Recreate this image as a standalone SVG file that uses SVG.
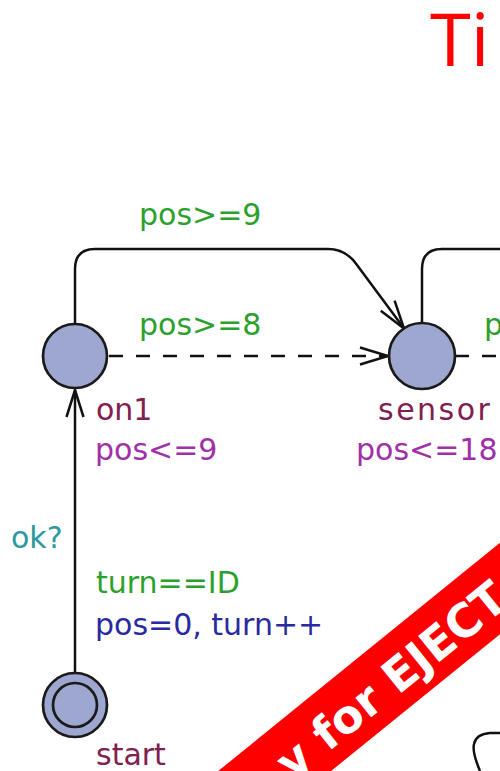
<svg xmlns="http://www.w3.org/2000/svg" width="500" height="771" viewBox="0 0 500 771">
  <style>
    .loc { fill: #9EA7CF; stroke: #1a1a1a; stroke-width: 2.7; }
    .edge { fill: none; stroke: #111; stroke-width: 2.5; }
    .dash { stroke-dasharray: 14 13; }
    .head { fill: none; stroke: #111; stroke-width: 2.5; stroke-linejoin: miter; }
    .lbl { font-family: "DejaVu Sans", "Liberation Sans", sans-serif; font-size: 30px; }
    .name { fill: #80204F; }
    .inv { fill: #A030A8; }
    .guard { fill: #2CA02C; }
    .sync { fill: #2B9A9E; }
    .upd { fill: #2A2AA0; }
  </style>

  <!-- page title -->
  <text x="430" y="66" font-family="'Open Sans', 'Liberation Sans', sans-serif" font-size="74" fill="#FF0000">Ti</text>

  <!-- transitions -->
  <g id="edges">
    <!-- start -> on1 -->
    <path class="edge" d="M75,673 V390"/>
    <polyline class="head" points="66.5,417 75,390 83.5,417"/>

    <!-- on1 -> sensor (upper, pos>=9) -->
    <path class="edge" d="M75,324 V269 Q75,249 95,249 H328 Q346,249 357,265 L403,327"/>
    <polyline class="head" points="394.6,300.7 404,328.5 380.8,310.7"/>

    <!-- on1 -> sensor (dashed, pos>=8) -->
    <path class="edge dash" d="M109,356 H387"/>
    <polyline class="head" points="360,347.5 388,356 360,364.5"/>

    <!-- sensor -> right (upper) -->
    <path class="edge" d="M422,323 V269 Q422,249 442,249 H500"/>

    <!-- sensor -> right (dashed) -->
    <path class="edge dash" d="M455,356 H500"/>

    <!-- partial edge at lower right -->
    <path class="edge" d="M480,771 Q472,752 474,744 Q476,734 490,733 L500,733"/>
  </g>

  <!-- edge labels -->
  <g id="edge-labels" class="lbl">
    <text class="guard" x="139" y="225">pos&gt;=9</text>
    <text class="guard" x="139" y="335">pos&gt;=8</text>
    <text class="guard" x="484" y="335">pos&gt;=</text>
    <text class="sync" x="11" y="548">ok?</text>
    <text class="guard" x="96" y="593">turn==ID</text>
    <text class="upd" x="95" y="635">pos=0, turn++</text>
  </g>

  <!-- locations -->
  <g id="on1">
    <circle class="loc" cx="75" cy="356" r="32"/>
    <text class="lbl name" x="96" y="420">on1</text>
    <text class="lbl inv" x="95" y="460">pos&lt;=9</text>
  </g>

  <g id="sensor">
    <circle class="loc" cx="422" cy="356" r="33"/>
    <text class="lbl name" x="378" y="420" letter-spacing="2.5">sensor</text>
    <text class="lbl inv" x="356" y="460">pos&lt;=18</text>
  </g>

  <g id="start">
    <circle class="loc" cx="75" cy="705" r="32"/>
    <circle class="loc" cx="75" cy="705" r="22"/>
    <text class="lbl name" x="96" y="765">start</text>
  </g>

  <!-- diagonal ribbon -->
  <g transform="translate(400,669.5) rotate(-39)">
    <rect x="-320" y="-35.5" width="640" height="71" fill="#FF0000"/>
    <text x="-154" y="19" font-family="'DejaVu Sans', 'Liberation Sans', sans-serif" font-weight="bold" font-size="46" fill="#FFFFFF">y for EJECT</text>
  </g>
</svg>
